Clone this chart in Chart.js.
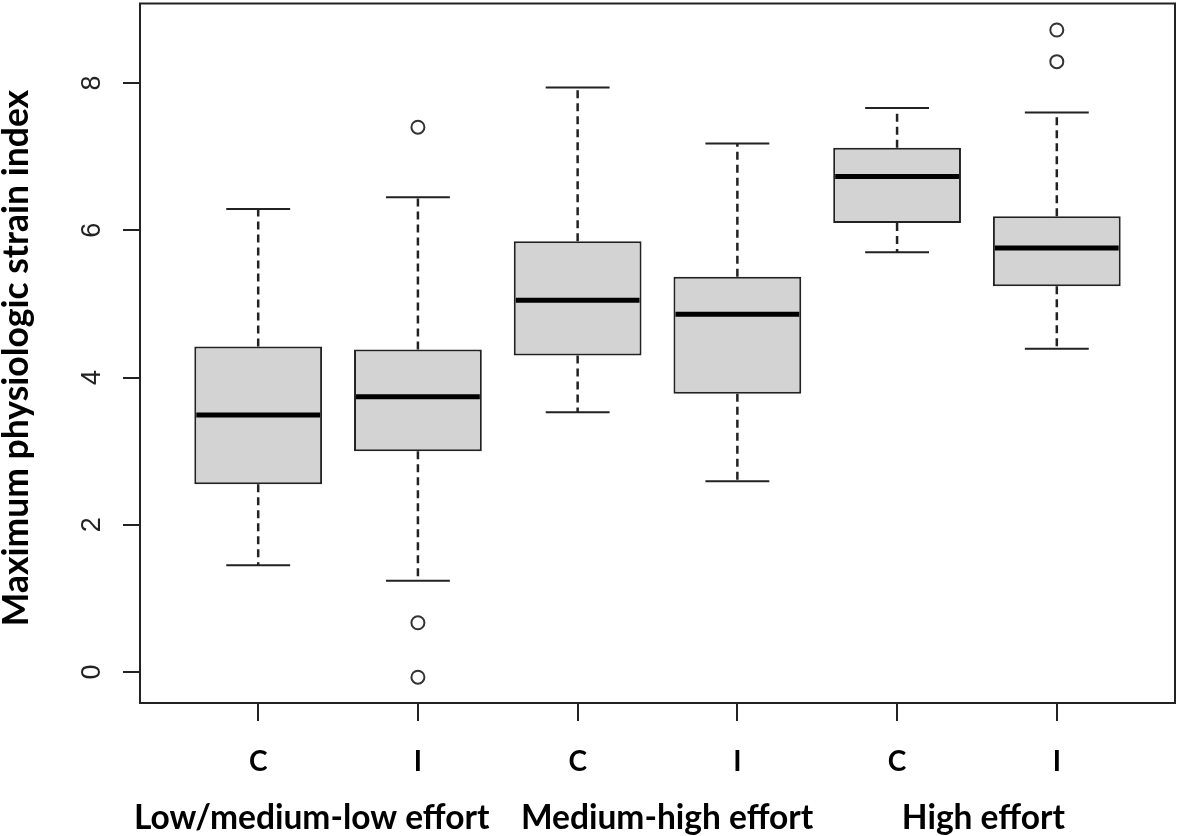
<!DOCTYPE html>
<html>
<head>
<meta charset="utf-8">
<script src="https://cdn.jsdelivr.net/npm/chart.js@4.4.0/dist/chart.umd.min.js"></script>
<style>
  html, body { margin: 0; padding: 0; background: #fff; }
  #wrap { width: 1180px; height: 836px; }
</style>
</head>
<body>
<div id="wrap"><canvas id="grafico"></canvas></div>
<script>
// grupos: C = controle, I = intervenção
const groupPos = [1, 2, 3, 4, 5, 6];
const groupTicks = ['C', 'I', 'C', 'I', 'C', 'I'];
const effortLabels = ['Low/medium-low effort', 'Medium-high effort', 'High effort'];
const effortCenters = [1.335, 3.56, 5.54];

const whiskerLow = [1.45, 1.24, 3.53, 2.59, 5.70, 4.39];
const q1 = [2.55, 3.00, 4.30, 3.78, 6.10, 5.24];
const median = [3.49, 3.74, 5.05, 4.86, 6.73, 5.76];
const q3 = [4.42, 4.38, 5.85, 5.37, 7.12, 6.19];
const whiskerHigh = [6.29, 6.45, 7.94, 7.18, 7.66, 7.60];

const outlierGroup = [2, 2, 2, 6, 6];
const outlierValue = [7.40, 0.67, -0.07, 8.29, 8.72];

const yTicks = [0, 2, 4, 6, 8];
const yTitle = 'Maximum physiologic strain index';

const lineColor = '#222';

// whiskers, medianas, moldura e textos
const boxPlotExtras = {
  id: 'boxPlotExtras',
  beforeDatasetsDraw(chart) {
    const { ctx, scales: { x, y } } = chart;
    const capHalf = x.getPixelForValue(1.2) - x.getPixelForValue(1);
    ctx.save();
    ctx.strokeStyle = lineColor;
    groupPos.forEach((g, i) => {
      const px = x.getPixelForValue(g);
      ctx.lineWidth = 2.5;
      ctx.setLineDash([8, 5]);
      ctx.beginPath();
      ctx.moveTo(px, y.getPixelForValue(q3[i]));
      ctx.lineTo(px, y.getPixelForValue(whiskerHigh[i]));
      ctx.moveTo(px, y.getPixelForValue(q1[i]));
      ctx.lineTo(px, y.getPixelForValue(whiskerLow[i]));
      ctx.stroke();
      ctx.setLineDash([]);
      ctx.lineWidth = 2;
      ctx.beginPath();
      [whiskerHigh[i], whiskerLow[i]].forEach(v => {
        const py = y.getPixelForValue(v);
        ctx.moveTo(px - capHalf, py);
        ctx.lineTo(px + capHalf, py);
      });
      ctx.stroke();
    });
    ctx.restore();
  },
  afterDatasetsDraw(chart) {
    const { ctx, scales: { x, y } } = chart;
    const boxHalf = x.getPixelForValue(1.4) - x.getPixelForValue(1) - 2;
    ctx.save();
    ctx.strokeStyle = '#000';
    ctx.lineWidth = 5;
    groupPos.forEach((g, i) => {
      const px = x.getPixelForValue(g);
      const py = y.getPixelForValue(median[i]);
      ctx.beginPath();
      ctx.moveTo(px - boxHalf, py);
      ctx.lineTo(px + boxHalf, py);
      ctx.stroke();
    });
    ctx.restore();
  },
  afterDraw(chart) {
    const { ctx, chartArea: a, scales: { x, y } } = chart;
    ctx.save();
    ctx.strokeStyle = lineColor;
    ctx.lineWidth = 2;
    ctx.strokeRect(a.left, a.top, a.right - a.left, a.bottom - a.top);

    // rótulos do eixo y, girados como no R
    ctx.fillStyle = '#222';
    ctx.font = '27px "Liberation Sans", Arial, sans-serif';
    ctx.textAlign = 'center';
    ctx.textBaseline = 'alphabetic';
    yTicks.forEach(v => {
      ctx.save();
      ctx.translate(100, y.getPixelForValue(v));
      ctx.rotate(-Math.PI / 2);
      ctx.fillText(String(v), 0, 0);
      ctx.restore();
    });

    ctx.fillStyle = '#000';
    ctx.font = 'bold 35.5px Lato, sans-serif';
    ctx.save();
    ctx.translate(28, 358);
    ctx.rotate(-Math.PI / 2);
    ctx.fillText(yTitle, 0, 0);
    ctx.restore();

    ctx.font = 'bold 33.5px Lato, sans-serif';
    effortLabels.forEach((t, i) => {
      ctx.fillText(t, x.getPixelForValue(effortCenters[i]), 829);
    });
    ctx.restore();
  }
};

new Chart(document.getElementById('grafico'), {
  type: 'bar',
  data: {
    datasets: [
      {
        type: 'bar',
        data: groupPos.map((g, i) => ({ x: g, y: [q1[i], q3[i]] })),
        backgroundColor: '#d3d3d3',
        borderColor: lineColor,
        borderWidth: 2,
        borderSkipped: false,
        barPercentage: 0.8,
        categoryPercentage: 1.0
      },
      {
        type: 'scatter',
        data: outlierGroup.map((g, i) => ({ x: g, y: outlierValue[i] })),
        pointStyle: 'circle',
        pointRadius: 6.5,
        pointBorderWidth: 2,
        pointBorderColor: '#333',
        pointBackgroundColor: 'rgba(255,255,255,0)'
      }
    ]
  },
  options: {
    responsive: true,
    maintainAspectRatio: false,
    animation: false,
    events: [],
    layout: { autoPadding: false, padding: { top: 3.5, right: 5, left: 0, bottom: 0 } },
    plugins: {
      legend: { display: false },
      tooltip: { enabled: false }
    },
    scales: {
      x: {
        type: 'linear',
        min: 0.26,
        max: 6.74,
        offset: false,
        afterBuildTicks: (axis) => { axis.ticks = groupPos.map(v => ({ value: v })); },
        afterFit: (axis) => { axis.height = 133; },
        border: { display: false },
        grid: {
          drawOnChartArea: false,
          drawTicks: true,
          tickLength: 18,
          color: lineColor,
          lineWidth: 2,
          offset: false
        },
        ticks: {
          autoSkip: false,
          maxRotation: 0,
          padding: 24,
          color: '#000',
          font: { family: 'Lato', weight: 'bold', size: 28 },
          callback: (v) => groupTicks[groupPos.indexOf(v)]
        }
      },
      y: {
        type: 'linear',
        min: -0.42,
        max: 9.08,
        afterBuildTicks: (axis) => { axis.ticks = yTicks.map(v => ({ value: v })); },
        afterFit: (axis) => { axis.width = 140; },
        border: { display: false },
        grid: {
          drawOnChartArea: false,
          drawTicks: true,
          tickLength: 17,
          color: lineColor,
          lineWidth: 2
        },
        ticks: { display: false }
      }
    }
  },
  plugins: [boxPlotExtras]
});
</script>
</body>
</html>
